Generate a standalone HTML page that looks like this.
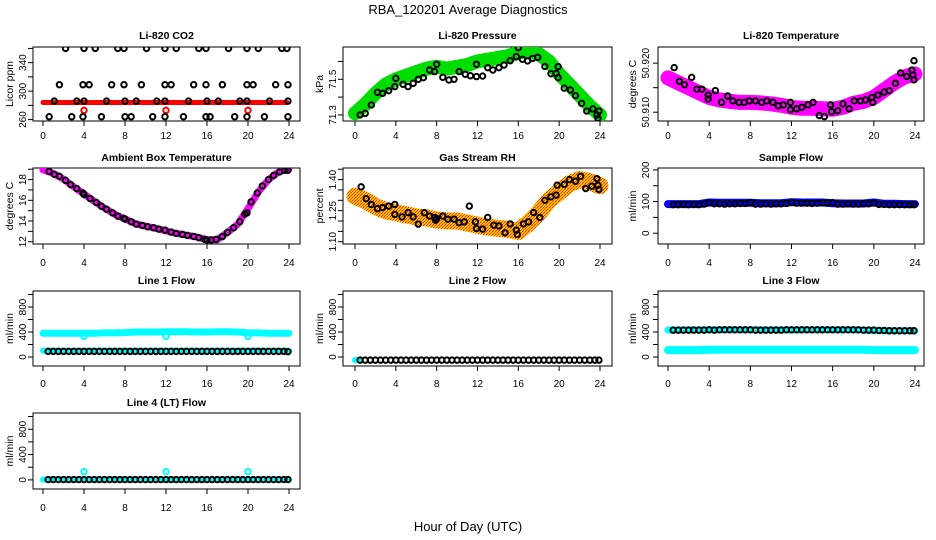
<!DOCTYPE html>
<html><head><meta charset="utf-8"><title>RBA_120201 Average Diagnostics</title>
<style>
html,body{margin:0;padding:0;background:#fff;}
svg{display:block;font-family:"Liberation Sans",Arial,sans-serif;}
</style></head>
<body>
<svg id="chart" width="936" height="540" viewBox="0 0 936 540" xmlns="http://www.w3.org/2000/svg">
<defs>
<pattern id="rhpat" width="3" height="3" patternUnits="userSpaceOnUse">
<rect width="3" height="3" fill="#ffc000"/><rect width="1" height="1" fill="#ff2000"/><rect x="2" y="1" width="1" height="1" fill="#ff6000"/><rect x="1" y="2" width="1" height="1" fill="#ff3000"/>
</pattern>
</defs>
<text x="468" y="14" font-size="13" text-anchor="middle">RBA_120201  Average Diagnostics</text>
<text x="468" y="531" font-size="13" text-anchor="middle">Hour of Day (UTC)</text>
</svg>
<script>
// ---------- data ----------
const bandHours = [0,1,2,3,4,5,6,7,8,9,10,11,12,13,14,15,16,17,18,19,20,21,22,23,24];
const flowHours = [0.5,1,1.5,2,2.5,3,3.5,4,4.5,5,5.5,6,6.5,7,7.5,8,8.5,9,9.5,10,10.5,11,11.5,12,12.5,13,13.5,14,14.5,15,15.5,16,16.5,17,17.5,18,18.5,19,19.5,20,20.5,21,21.5,22,22.5,23,23.5,23.9];

const co2Hours = [2.2,4,5.1,7.3,7.9,10.1,11.9,13,15.2,15.9,18.1,19.9,21,23.3,23.8, 1.6,3.9,4.5,6.7,7.9,9.6,11.9,12.5,14.7,15.9,17.5,19.9,20.5,22.7,23.9, 1.1,3.3,4,6.2,8,9.1,11.1,11.9,14.2,16,17.1,19.2,19.9,22.1,23.9, 0.6,2.8,3.9,5.7,8,8.6,10.7,11.9,13.7,15.9,16.3,18.7,19.9,21.6,23.9];
const co2Values = [360,360,360,360,360,360,360,360,360,360,360,360,360,360,360, 309,309,309,309,309,309,309,309,309,309,309,309,309,309,309, 286,286,286,286,286,286,286,286,286,286,286,286,286,286,286, 264,264,264,264,264,264,264,264,264,264,264,264,264,264,264];
const co2BandHours = [0,23.8];
const co2BandValues = [284,284];
const co2OutHours = [4,12,20];
const co2OutValues = [273,273,273];

const presHours = [0.5,1,1.6,2.2,2.7,3.3,3.9,4,4.7,5.2,5.7,6.2,6.7,7.3,7.8,8,8.6,9.2,9.7,10.2,10.8,11.3,11.9,11.9,12.5,13,13.5,14.1,14.6,15.2,15.8,16,16.4,16.9,17.4,17.9,18.6,19.2,19.7,19.9,19.9,20.5,21.1,21.6,22.2,22.7,23.3,23.7,23.8,23.9];
const presValues = [71.300,71.309,71.356,71.427,71.421,71.436,71.459,71.505,71.472,71.459,71.477,71.500,71.509,71.552,71.543,71.584,71.511,71.496,71.500,71.543,71.528,71.520,71.515,71.584,71.518,71.565,71.552,71.565,71.580,71.604,71.627,71.677,71.612,71.603,71.617,71.623,71.572,71.531,71.533,71.571,71.509,71.450,71.440,71.408,71.365,71.322,71.334,71.300,71.281,71.322];
const presBand = [71.31,71.36,71.42,71.47,71.50,71.52,71.54,71.56,71.57,71.56,71.57,71.58,71.60,71.61,71.62,71.63,71.65,71.66,71.64,71.60,71.53,71.47,71.41,71.35,71.30];

const tempHours = [0.6,1.1,1.6,2.3,2.8,3.3,3.9,3.9,4.6,5.2,5.8,6.3,6.9,7.4,7.9,8.5,9.1,9.6,10.2,10.7,11.2,11.9,11.9,12.5,13,13.6,14.1,14.7,15.2,15.8,15.9,16.5,17,17.6,18.1,18.7,19.2,19.8,19.9,20.4,21,21.5,22.1,22.6,23.2,23.7,23.8,23.9,23.9];
const tempValues = [50.9191,50.9163,50.9156,50.9171,50.9147,50.9147,50.9135,50.9127,50.9144,50.9120,50.9133,50.9123,50.9120,50.9120,50.9123,50.9123,50.9120,50.9123,50.9120,50.9113,50.9115,50.9120,50.9105,50.9107,50.9110,50.9115,50.9120,50.9093,50.9091,50.9115,50.9101,50.9103,50.9117,50.9107,50.9123,50.9123,50.9125,50.9130,50.9120,50.9135,50.9141,50.9144,50.9159,50.9180,50.9173,50.9186,50.9176,50.9166,50.9205];
const tempBand = [50.9170,50.9160,50.9150,50.9140,50.9130,50.9125,50.9122,50.9120,50.9120,50.9119,50.9117,50.9114,50.9110,50.9108,50.9108,50.9107,50.9106,50.9110,50.9118,50.9122,50.9130,50.9145,50.9160,50.9172,50.9178];

const ambHours = [0.6,1.1,1.6,2.2,2.7,3.3,3.9,4,4.6,5.2,5.7,6.2,6.8,7.3,7.9,8,8.6,9.1,9.7,10.2,10.8,11.3,11.9,12.5,13,13.6,14.1,14.7,15.2,15.8,16,16.4,16.9,17.5,18,18.6,19.2,19.7,19.9,20.3,20.9,21.4,22,22.5,23.1,23.6,23.9];
const ambValues = [18.80,18.51,18.32,17.93,17.51,17.13,16.71,16.56,16.17,15.79,15.43,15.14,14.79,14.47,14.25,14.19,13.93,13.70,13.57,13.45,13.35,13.22,13.12,12.93,12.80,12.71,12.61,12.51,12.39,12.23,12.16,12.17,12.23,12.49,12.90,13.35,13.93,14.67,14.79,15.85,16.71,17.39,18.00,18.41,18.74,18.90,18.90];
const ambBand = [18.95,18.60,18.05,17.30,16.60,15.90,15.25,14.65,14.20,13.75,13.50,13.30,13.05,12.80,12.63,12.45,12.20,12.20,12.90,13.70,15.20,16.80,18.00,18.75,19.05];

const rhHours = [0.6,1.1,1.6,2.2,2.7,3.3,3.9,3.9,4.6,5.2,5.7,6.2,6.8,7.3,7.8,7.9,8,8.6,9.1,9.7,10.2,10.7,11.2,11.8,11.9,12.5,13,13.6,14.1,14.7,15.2,15.8,15.9,16.5,17,17.5,18.1,18.6,19.2,19.7,19.8,20.5,21,21.6,22.1,22.6,23.2,23.7,23.8,23.9];
const rhValues = [1.365,1.308,1.280,1.260,1.265,1.272,1.280,1.232,1.220,1.241,1.220,1.185,1.240,1.224,1.217,1.204,1.212,1.224,1.209,1.209,1.192,1.196,1.272,1.196,1.164,1.161,1.217,1.180,1.176,1.143,1.186,1.156,1.135,1.186,1.196,1.241,1.217,1.300,1.317,1.325,1.373,1.377,1.400,1.392,1.416,1.357,1.368,1.405,1.373,1.352];
const rhBand = [1.32,1.30,1.27,1.25,1.24,1.23,1.22,1.215,1.205,1.20,1.20,1.19,1.18,1.17,1.165,1.16,1.15,1.19,1.24,1.30,1.34,1.38,1.40,1.39,1.37];

const sampleValues = [90,90,91,90,91,90,92,97,93,93,92,93,93,94,94,97,92,92,93,92,93,93,94,98,95,95,95,94,95,96,96,97,92,92,93,92,92,93,93,96,91,91,90,90,90,90,90,90];
const sampleBand = [92,92,92,92,97,96,96,96,96,95,95,95,98,97,97,97,95,94,94,94,97,93,93,92,92];

const line1Values = [90,90,90,90,90,90,90,90,90,90,90,90,90,90,90,90,90,90,90,90,90,90,90,90,90,90,90,90,90,90,90,90,90,90,90,90,90,90,90,90,90,90,90,90,90,90,90,85];
const line1UpperBand = [380,380,380,380,380,380,385,385,390,400,400,400,405,405,405,400,400,405,405,400,385,385,380,380,380];
const line1LowerBand = [100,100,100,100,100,100,100,100,100,100,100,100,100,100,100,100,100,100,100,100,100,100,100,100,100];
const line1OutHours = [4,12,20];
const line1OutValues = [330,330,330];

const line2Values = [-50,-50,-50,-50,-50,-50,-50,-50,-50,-50,-50,-50,-50,-50,-50,-50,-50,-50,-50,-50,-50,-50,-50,-50,-50,-50,-50,-50,-50,-50,-50,-50,-50,-50,-50,-50,-50,-50,-50,-50,-50,-50,-50,-50,-50,-50,-50,-50];
const line2BandHours = [0,0.4];
const line2BandValues = [-50,-50];

const line3Values = [430,430,430,430,430,430,430,435,430,435,435,435,435,435,435,435,430,430,430,430,430,430,435,435,435,435,435,435,435,435,435,435,435,435,435,435,435,430,430,430,425,425,420,420,420,420,420,420];
const line3UpperBand = [430,430,435,435,435,435,435,435,435,435,435,435,430,435,435,435,435,435,435,430,420,420,420,420,420];
const line3LowerBand = [110,110,110,110,115,115,115,115,115,115,115,115,115,115,115,115,115,115,115,115,110,110,110,110,110];

const line4Values = [5,5,5,5,5,5,5,5,5,5,5,5,5,5,5,5,5,5,5,5,5,5,5,5,5,5,5,5,5,5,5,5,5,5,5,5,5,5,5,5,5,5,5,5,5,5,5,5];
const line4BandHours = [0,24];
const line4BandValues = [5,5];
const line4OutHours = [4,12,20];
const line4OutValues = [130,130,130];

// tick arrays
const hourTicks = [0,4,8,12,16,20,24];
const co2Ticks = [260,280,300,320,340,360];
const co2Labels = ["260","","300","","340",""];
const presTicks = [71.3,71.4,71.5,71.6];
const presLabels = ["71.3","","71.5",""];
const tempTicks = [50.910,50.915,50.920];
const tempLabels = ["50.910","","50.920"];
const ambTicks = [12,13,14,15,16,17,18,19];
const ambLabels = ["12","","14","","16","","18",""];
const rhTicks = [1.10,1.15,1.20,1.25,1.30,1.35,1.40,1.45];
const rhLabels = ["1.10","","","1.25","","","1.40",""];
const sampleTicks = [0,50,100,150,200];
const sampleLabels = ["0","","100","","200"];
const flowTicks = [0,200,400,600,800,1000];
const flowLabels = ["0","","400","","800",""];

// ---------- layout ----------
const NS = "http://www.w3.org/2000/svg";
const svg = document.getElementById("chart");
const cols = [
  {bx0:33,bx1:300,h0:43,h24:289,tickX:22,titleX:9},
  {bx0:343,bx1:612,h0:355,h24:600,tickX:332,titleX:319},
  {bx0:658,bx1:924,h0:668,h24:915,tickX:645,titleX:632}];
const rows = [
  {by0:47,by1:121,titleY:39,labY:139},
  {by0:168,by1:244,titleY:161,labY:266},
  {by0:291,by1:366,titleY:284,labY:387},
  {by0:413,by1:489,titleY:406,labY:511}];

function mk(tag, attrs, parent){
  const e = document.createElementNS(NS, tag);
  for (const k in attrs) e.setAttribute(k, attrs[k]);
  parent.appendChild(e);
  return e;
}

function panel(name, title, ylab, r, c, ylo, yhi, ticks, labels){
  const C = cols[c], R = rows[r];
  const g = mk("g", {}, svg);
  
  
  const xs = h => C.h0 + (C.h24 - C.h0) * h / 24;
  const ys = v => R.by1 - (v - ylo) / (yhi - ylo) * (R.by1 - R.by0);
  const t = mk("text", {x:(C.bx0+C.bx1)/2, y:R.titleY, "font-size":10.5, "font-weight":"bold", "text-anchor":"middle"}, g);
  t.textContent = title;
  
  
  const yt = mk("text", {x:0, y:0, "font-size":10.5, "text-anchor":"middle", transform:`translate(${C.titleX+4},${(R.by0+R.by1)/2}) rotate(-90)`}, g);
  yt.textContent = ylab;
  
  
  const box = mk("rect", {x:C.bx0, y:R.by0, width:C.bx1-C.bx0, height:R.by1-R.by0, fill:"none", stroke:"#000", "stroke-width":1}, g);
  
  
  hourTicks.forEach(h => {
    const x = xs(h);
    const tk = mk("line", {x1:x, x2:x, y1:R.by1, y2:R.by1+5, stroke:"#000"}, g);
    
    
    const lb = mk("text", {x:x, y:R.labY, "font-size":10, "text-anchor":"middle"}, g);
    lb.textContent = String(h);
    
    
  });
  ticks.forEach((v, i) => {
    const y = ys(v);
    const tk = mk("line", {x1:C.bx0-5, x2:C.bx0, y1:y, y2:y, stroke:"#000"}, g);
    
    
    if (labels[i]) {
      const lb = mk("text", {x:0, y:0, "font-size":10, "text-anchor":"middle", transform:`translate(${C.tickX+4},${y}) rotate(-90)`}, g);
      lb.textContent = labels[i];
      
      
    }
  });
  const clip = "clip-" + name;
  const cp = mk("clipPath", {id:clip}, g);
  mk("rect", {x:C.bx0, y:R.by0, width:C.bx1-C.bx0, height:R.by1-R.by0}, cp);
  const plot = mk("g", {"clip-path":`url(#${clip})`}, g);
  return {
    band(hours, vals, color, width, label){
      const pts = hours.map((h,i) => xs(h).toFixed(1) + "," + ys(vals[i]).toFixed(1)).join(" ");
      const pl = mk("polyline", {points:pts, fill:"none", stroke:color, "stroke-width":width, "stroke-linejoin":"round", "stroke-linecap":"round"}, plot);
      
      
    },
    pts(hours, vals, color, label){
      hours.forEach((h,i) => {
        const ci = mk("circle", {cx:xs(h), cy:ys(vals[i]), r:2.7, fill:"none", stroke:color, "stroke-width":2}, plot);
        
        
      });
    }
  };
}

// Row 1
let p = panel("li820-co2", "Li-820 CO2", "Licor ppm", 0, 0, 258, 362, co2Ticks, co2Labels);
p.band(co2BandHours, co2BandValues, "#ff0000", 5, "co2-red-series");
p.pts(co2OutHours, co2OutValues, "#ff0000", "co2-red-point");
p.pts(co2Hours, co2Values, "#000", "co2-average-point");

p = panel("li820-pressure", "Li-820 Pressure", "kPa", 0, 1, 71.266, 71.681, presTicks, presLabels);
p.band(bandHours, presBand, "#00dd00", 14, "pressure-green-series");
p.pts(presHours, presValues, "#000", "pressure-average-point");

p = panel("li820-temperature", "Li-820 Temperature", "degrees C", 0, 2, 50.9082, 50.9233, tempTicks, tempLabels);
p.band(bandHours, tempBand, "#ff00ff", 15, "temperature-magenta-series");
p.pts(tempHours, tempValues, "#000", "temperature-average-point");

// Row 2
p = panel("ambient-box-temperature", "Ambient Box Temperature", "degrees C", 1, 0, 11.78, 19.12, ambTicks, ambLabels);
p.band(bandHours, ambBand, "#ff00ff", 7, "ambient-magenta-series");
p.pts(ambHours, ambValues, "#000", "ambient-average-point");

p = panel("gas-stream-rh", "Gas Stream RH", "percent", 1, 1, 1.089, 1.456, rhTicks, rhLabels);
p.band(bandHours, rhBand, "url(#rhpat)", 17, "rh-orange-series");
p.pts(rhHours, rhValues, "#000", "rh-average-point");

p = panel("sample-flow", "Sample Flow", "ml/min", 1, 2, -34, 206, sampleTicks, sampleLabels);
p.band(bandHours, sampleBand, "#0000ff", 8, "sample-flow-blue-series");
p.pts(flowHours, sampleValues, "#000", "sample-flow-average-point");

// Row 3
p = panel("line-1-flow", "Line 1 Flow", "ml/min", 2, 0, -144, 1056, flowTicks, flowLabels);
p.band(bandHours, line1UpperBand, "#00ffff", 7, "line1-cyan-upper-series");
p.band(bandHours, line1LowerBand, "#00ffff", 6, "line1-cyan-lower-series");
p.pts(line1OutHours, line1OutValues, "#00ffff", "line1-cyan-point");
p.pts(flowHours, line1Values, "#000", "line1-average-point");

p = panel("line-2-flow", "Line 2 Flow", "ml/min", 2, 1, -144, 1056, flowTicks, flowLabels);
p.band(line2BandHours, line2BandValues, "#00ffff", 6, "line2-cyan-series");
p.pts(flowHours, line2Values, "#000", "line2-average-point");

p = panel("line-3-flow", "Line 3 Flow", "ml/min", 2, 2, -144, 1056, flowTicks, flowLabels);
p.band(bandHours, line3UpperBand, "#00ffff", 7, "line3-cyan-upper-series");
p.band(bandHours, line3LowerBand, "#00ffff", 8, "line3-cyan-lower-series");
p.pts(flowHours, line3Values, "#000", "line3-average-point");

// Row 4
p = panel("line-4-lt-flow", "Line 4 (LT) Flow", "ml/min", 3, 0, -144, 1056, flowTicks, flowLabels);
p.band(line4BandHours, line4BandValues, "#00ffff", 6, "line4-cyan-series");
p.pts(line4OutHours, line4OutValues, "#00ffff", "line4-cyan-point");
p.pts(flowHours, line4Values, "#000", "line4-average-point");
</script>
</body></html>
